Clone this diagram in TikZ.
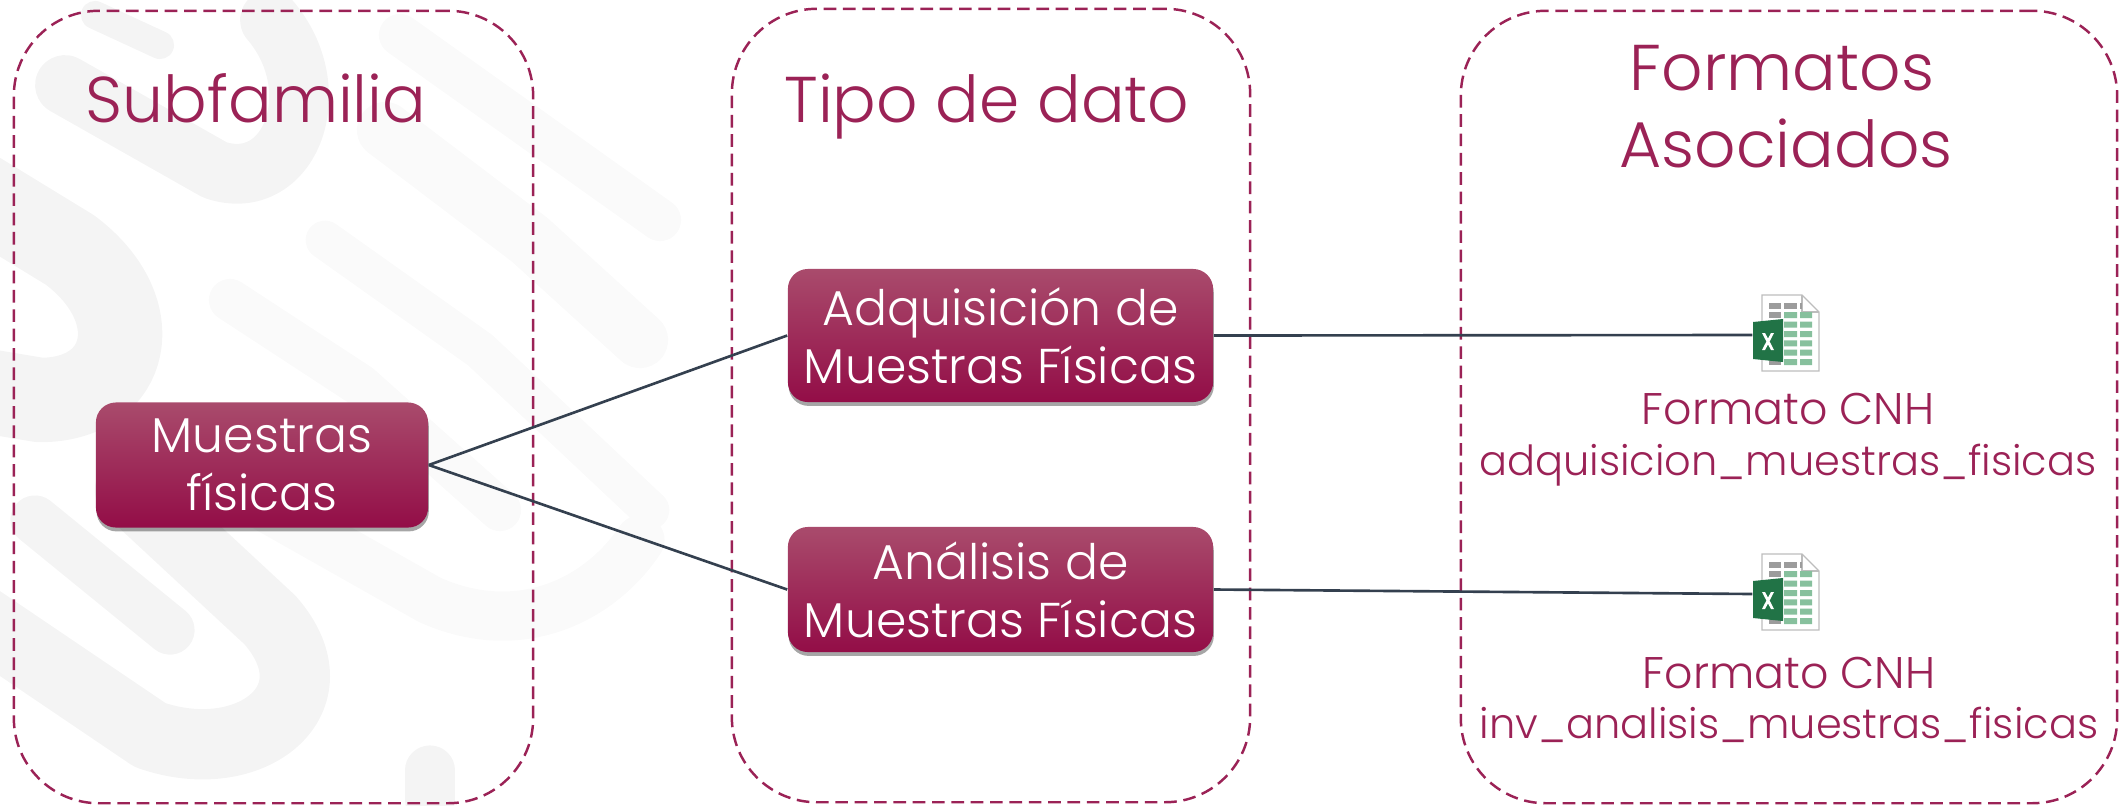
\documentclass[tikz,border=0pt]{standalone}
\usepackage{fontspec}
\setmainfont{Poppins}[UprightFont=* Light]
\usetikzlibrary{shadows}
\definecolor{guinda}{HTML}{9B2256}
\definecolor{guindatop}{HTML}{A94B6C}
\definecolor{guindamid}{HTML}{A21A52}
\definecolor{guindalow}{HTML}{930D47}
\definecolor{linea}{HTML}{34404F}
\definecolor{marca}{HTML}{F4F4F4}
\definecolor{marcados}{HTML}{FAFAFA}
\definecolor{hoja}{HTML}{BDBDBD}
\definecolor{celda}{HTML}{87C09D}
\definecolor{celdagris}{HTML}{9C9C9C}
\definecolor{excel}{HTML}{217346}
\tikzset{
  panel/.style={draw=guinda,line width=0.7pt,dash pattern=on 3.6pt off 1.9pt,rounded corners=0.85cm,inner sep=0pt},
  tema/.style={shade,top color=guindatop,middle color=guindamid,bottom color=guindalow,rounded corners=0.2cm,
    drop shadow={shadow xshift=0.2pt,shadow yshift=-1.1pt,opacity=0.35,fill=black},
    text=white,align=center,inner sep=0pt,font=\fontsize{13.9}{16.5}\selectfont},
  titulo/.style={text=guinda,anchor=base,inner sep=0pt,font=\fontsize{18.4}{22}\selectfont},
  formato/.style={text=guinda,anchor=base,inner sep=0pt,font=\fontsize{12.6}{15}\selectfont},
  archivo/.style={text=guinda,anchor=base,inner sep=0pt,font=\fontsize{11.8}{14}\selectfont},
  icono/.style={minimum width=0.66cm,minimum height=0.76cm,inner sep=0pt},
  enlace/.style={draw=linea,line width=0.75pt},
  fondo/.style={draw=marca,line cap=round,line join=round},
  fondodos/.style={draw=marcados,line cap=round,line join=round}
}
\newcommand{\hojaexcel}[1]{
\begin{scope}[shift={(#1)},yshift=0.02cm]
\filldraw[fill=white,draw=hoja,line width=0.4pt] (-24,-38) -- (16,-38) -- (33,-21) -- (33,38) -- (-24,38) -- cycle;
\draw[draw=hoja,line width=0.4pt] (16,-38) -- (16,-21) -- (33,-21);
\fill[celdagris] (-17,-30) rectangle (-5,-24);
\fill[celdagris] (-2,-30) rectangle (11,-24);
\fill[celdagris] (14,-30) rectangle (16,-24);
\fill[celdagris] (-17,-21) rectangle (-5,-15);
\fill[celdagris] (-17,26) rectangle (-5,32);
\fill[celda] (-2,-21) rectangle (11,-15) (14,-21) rectangle (26,-15);
\fill[celda] (-2,-11.4) rectangle (11,-5.4) (14,-11.4) rectangle (26,-5.4);
\fill[celda] (-2,-2) rectangle (11,4) (14,-2) rectangle (26,4);
\fill[celda] (-2,7.3) rectangle (11,13.3) (14,7.3) rectangle (26,13.3);
\fill[celda] (-2,16.6) rectangle (11,22.6) (14,16.6) rectangle (26,22.6);
\fill[celda] (-2,26) rectangle (11,32) (14,26) rectangle (26,32);
\fill[excel] (-33,-11) -- (-3,-14) -- (-3,29) -- (-33,26) -- cycle;
\fill[white] (-24,0) -- (-21,0) -- (-18,5.5) -- (-15,0) -- (-12,0) -- (-16.4,8.5) -- (-12,17) -- (-15,17) -- (-18,11.5) -- (-21,17) -- (-24,17) -- (-19.6,8.5) -- cycle;
\end{scope}
}

\begin{document}
\begin{tikzpicture}[x=0.01cm,y=-0.01cm]
\useasboundingbox (0,0) rectangle (2126,805);

% marca de agua
\begin{scope}
\clip (0,0) rectangle (2126,805);
\draw[fondo,line width=8pt] (95,15) -- (160,45);
\draw[fondo,line width=17pt] (65,85) -- (215,170) .. controls (290,195) and (330,90) .. (270,20);
\draw[fondo,line width=24pt] (-20,195) -- (70,250) .. controls (150,310) and (130,400) .. (40,400) -- (-20,390);
\draw[fondo,line width=14pt] (35,520) -- (170,630);
\draw[fondo,line width=20pt] (-20,620) -- (150,735) .. controls (250,770) and (340,700) .. (270,620) -- (130,490);
\draw[fondodos,line width=12pt] (230,300) -- (360,385) -- (500,510);
\draw[fondodos,line width=14pt] (200,470) -- (430,600) .. controls (520,640) and (600,600) .. (640,540);
\draw[fondo,line width=14pt] (430,800) -- (430,770);
\draw[fondodos,line width=11pt] (325,240) -- (480,350) -- (650,510);
\draw[fondodos,line width=16pt] (385,130) -- (530,240) -- (640,340);
\draw[fondodos,line width=12pt] (400,35) -- (660,220);
\end{scope}

\node[panel,minimum width=5.19cm,minimum height=7.92cm] (panelA) at (273.5,407) {};
\node[panel,minimum width=5.18cm,minimum height=7.93cm] (panelB) at (991,405.5) {};
\node[panel,minimum width=6.56cm,minimum height=7.92cm] (panelC) at (1789,407) {};

\node[titulo] (subfamilia) at (256,122) {Subfamilia};
\node[titulo] (tipo) at (987,122) {Tipo de dato};
\node[titulo] (formatos) at (1782,90) {Formatos};
\node[titulo] (asociados) at (1786,167) {Asociados};

\node[tema,minimum width=3.32cm,minimum height=1.25cm] (muestras) at (262,465) {Muestras\\físicas};
\node[tema,minimum width=4.25cm,minimum height=1.33cm] (adquisicion) at (1000.5,335.5) {Adquisición de\\Muestras Físicas};
\node[tema,minimum width=4.25cm,minimum height=1.25cm] (analisis) at (1000.5,589.5) {Análisis de\\Muestras Físicas};

\node[icono] (iconoA) at (1786,335) {};
\node[icono] (iconoB) at (1786,594) {};
\hojaexcel{iconoA}
\hojaexcel{iconoB}

\node[formato] (cnhA) at (1788,424) {Formato CNH};
\node[archivo] (nombreA) at (1788,475) {adquisicion\_muestras\_fisicas};
\node[formato] (cnhB) at (1789,688) {Formato CNH};
\node[archivo] (nombreB) at (1789,738) {inv\_analisis\_muestras\_fisicas};

\draw[enlace] (muestras.east) -- (adquisicion.west);
\draw[enlace] (muestras.east) -- (analisis.west);
\draw[enlace] (adquisicion.east) -- (iconoA.west);
\draw[enlace] (analisis.east) -- (iconoB.west);
\end{tikzpicture}
\end{document}
